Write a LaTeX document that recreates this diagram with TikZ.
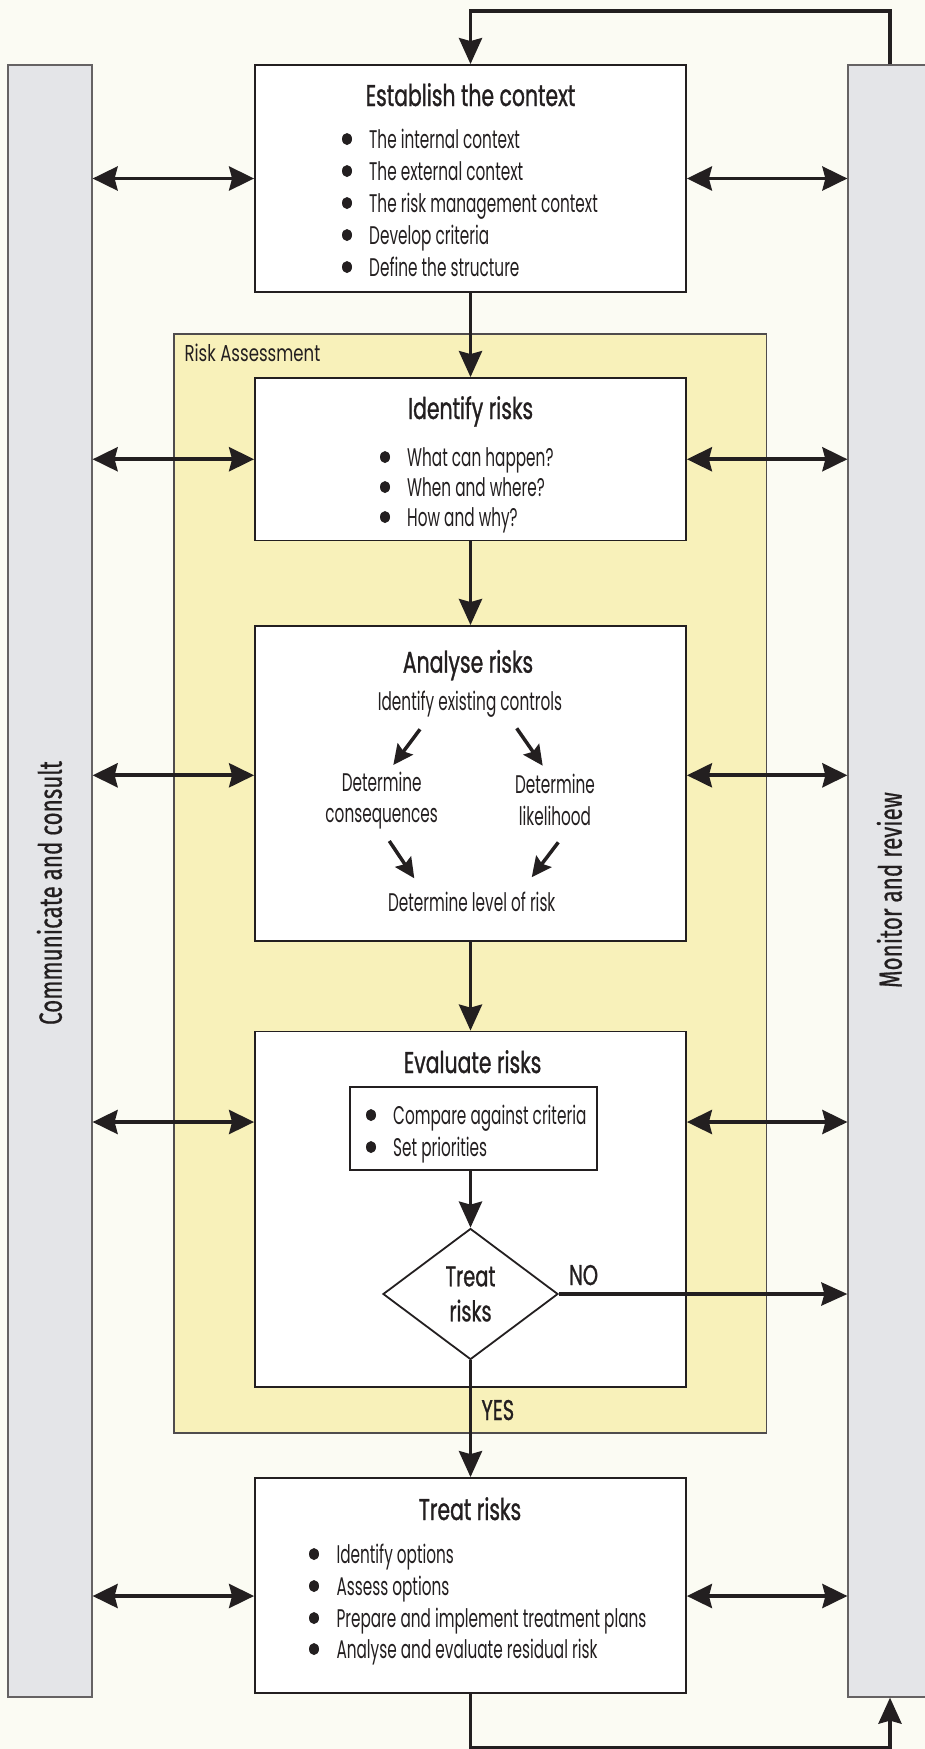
\documentclass[tikz,border=0pt]{standalone}
\usepackage{fontspec}
\setmainfont{Poppins}[FakeStretch=0.6]
\newfontfamily\headfont{Poppins}[FakeStretch=0.68,FakeBold=1]
\newfontfamily\tagfont{Poppins}[FakeStretch=0.72]
\newfontfamily\barfont{Fira Sans}[FakeStretch=0.7,FakeBold=0.6]
\usetikzlibrary{arrows.meta,shapes.geometric}
\definecolor{paper}{HTML}{FBFBF3}
\definecolor{panel}{HTML}{F8F1BA}
\definecolor{barfill}{HTML}{E4E5E8}
\definecolor{ink}{HTML}{231F20}
\newcommand{\bodysize}{\fontsize{25.5}{30}\selectfont}
\begin{document}
\begin{tikzpicture}[x=1pt,y=-1pt,
  box/.style={draw=ink,line width=1.8pt,fill=white,inner sep=0pt,minimum width=431pt},
  sidebar/.style={draw=ink!70,line width=1.2pt,fill=barfill,inner sep=0pt,minimum width=84pt,minimum height=1632pt},
  flow/.style={draw=ink,line width=3.8pt,-{Stealth[length=26pt,width=23pt,inset=3pt]}},
  link/.style={draw=ink,line width=3.8pt,{Stealth[length=25pt,width=24pt,inset=3pt]}-{Stealth[length=25pt,width=24pt,inset=3pt]}},
  small/.style={draw=ink,line width=3.5pt,-{Stealth[length=20pt,width=19pt,inset=3pt]}},
  title/.style={anchor=base,text=ink,inner sep=0pt,font=\headfont\fontsize{30}{36}\selectfont},
  item/.style={anchor=base west,text=ink,inner sep=0pt,font=\bodysize},
  note/.style={anchor=base,text=ink,inner sep=0pt,font=\bodysize},
  answer/.style={anchor=base west,text=ink,inner sep=0pt,font=\headfont\fontsize{28.5}{35}\selectfont},
  side/.style={anchor=base,rotate=90,text=ink,inner sep=0pt,font=\barfont\fontsize{32}{38}\selectfont}]
\path[use as bounding box,fill=paper] (0,0) rectangle (925,1749);
\node[sidebar] (comm) at (50,881) {};
\node[sidebar] (mon) at (890,881) {};
\node[draw=ink!80,line width=1.3pt,fill=panel,inner sep=0pt,minimum width=592.5pt,minimum height=1099pt] (ra) at (470.25,883.5) {};
\node[anchor=base west,inner sep=0pt,text=ink,font=\tagfont\fontsize{23}{28}\selectfont] (ratag) at (184.4,361.7) {Risk Assessment};
\node[side] (commt) at (61.7,893) {Communicate and consult};
\node[side] (mont) at (901.7,890) {Monitor and review};

\node[box,minimum height=227pt] (est) at (470.5,178.5) {};
\node[box,minimum height=162.5pt] (ide) at (470.5,459.25) {};
\node[box,minimum height=314.7pt] (ana) at (470.5,783.3) {};
\node[box,minimum height=355.5pt] (eva) at (470.5,1209.25) {};
\node[box,minimum height=215pt] (tre) at (470.5,1585.5) {};
\node[draw=ink,line width=1.8pt,fill=white,inner sep=0pt,minimum width=247pt,minimum height=82.7pt] (crit) at (473.85,1128.65) {};
\node[diamond,draw=ink,line width=1.8pt,fill=white,inner sep=0pt,minimum width=175pt,minimum height=131pt,align=center,text=ink,font=\headfont\fontsize{28.5}{35}\selectfont] (dia) at (470.5,1294) {Treat\\risks};

\node[title] (estt) at (470.5,106) {Establish the context};
\node[title] (idet) at (470.6,419) {Identify risks};
\node[title] (anat) at (468,672.7) {Analyse risks};
\node[title] (evat) at (472.6,1073) {Evaluate risks};
\node[title] (tret) at (470,1520) {Treat risks};

\node[item] (est1) at (369,148) {The internal context};
\node[item] (est2) at (369,180) {The external context};
\node[item] (est3) at (369,212) {The risk management context};
\node[item] (est4) at (369,244) {Develop criteria};
\node[item] (est5) at (369,276) {Define the structure};
\node[item] (ide1) at (407,466) {What can happen?};
\node[item] (ide2) at (407,496) {When and where?};
\node[item] (ide3) at (407,526) {How and why?};
\node[item] (crit1) at (393,1124) {Compare against criteria};
\node[item] (crit2) at (393,1156) {Set priorities};
\node[item] (tre1) at (336.3,1563) {Identify options};
\node[item] (tre2) at (336.3,1595) {Assess options};
\node[item] (tre3) at (336.3,1627) {Prepare and implement treatment plans};
\node[item] (tre4) at (336.3,1658) {Analyse and evaluate residual risk};
\fill[ink] (347,139) ellipse [x radius=5,y radius=6] (347,171) ellipse [x radius=5,y radius=6]
  (347,203) ellipse [x radius=5,y radius=6] (347,235) ellipse [x radius=5,y radius=6]
  (347,267) ellipse [x radius=5,y radius=6];
\fill[ink] (385,457) ellipse [x radius=5,y radius=6] (385,487) ellipse [x radius=5,y radius=6]
  (385,517) ellipse [x radius=5,y radius=6];
\fill[ink] (371,1115) ellipse [x radius=5,y radius=6] (371,1147) ellipse [x radius=5,y radius=6];
\fill[ink] (314,1554) ellipse [x radius=5,y radius=6] (314,1586) ellipse [x radius=5,y radius=6]
  (314,1618) ellipse [x radius=5,y radius=6] (314,1649) ellipse [x radius=5,y radius=6];

\node[note] (ctl) at (470,710.7) {Identify existing controls};
\node[note] (cons1) at (381.7,791.7) {Determine};
\node[note] (cons2) at (381.7,822.7) {consequences};
\node[note] (like1) at (555,793.3) {Determine};
\node[note] (like2) at (555,825) {likelihood};
\node[note] (lvl) at (471.7,911.7) {Determine level of risk};
\coordinate (c1) at (420,729.3);
\coordinate (c1e) at (393.3,765);
\coordinate (c2) at (516.7,728.3);
\coordinate (c2e) at (542.7,765.7);
\coordinate (c3) at (389.3,841);
\coordinate (c3e) at (414.3,878.3);
\coordinate (c4) at (558.3,842.3);
\coordinate (c4e) at (531.7,877.3);
\draw[small] (c1) -- (c1e);
\draw[small] (c2) -- (c2e);
\draw[small] (c3) -- (c3e);
\draw[small] (c4) -- (c4e);

\node[answer] (no) at (569,1285) {NO};
\node[answer] (yes) at (481.3,1420) {YES};

\draw[flow] (est) -- (ide);
\draw[flow] (ide) -- (ana);
\draw[flow] (ana) -- (eva);
\draw[flow] (dia.north |- crit.south) -- (dia.north);
\draw[flow] (dia.south) -- (dia.south |- tre.north);
\draw[flow] (dia.east) -- (dia.east -| mon.west);
\draw[flow] (mon.north) -- ++(0,-53.3) -| (est.north);
\draw[flow] (tre.south) -- ++(0,54) -| (mon.south);

\coordinate (anal) at ([yshift=8pt]ana.west);
\coordinate (anar) at ([yshift=8pt]ana.east);
\coordinate (eval) at ([yshift=87.25pt]eva.west);
\coordinate (evar) at ([yshift=87.25pt]eva.east);
\coordinate (trel) at ([yshift=-10.5pt]tre.west);
\coordinate (trer) at ([yshift=-10.5pt]tre.east);
\draw[link] (comm.east |- est.west) -- (est.west);
\draw[link] (est.east) -- (mon.west |- est.east);
\draw[link] (comm.east |- ide.west) -- (ide.west);
\draw[link] (ide.east) -- (mon.west |- ide.east);
\draw[link] (comm.east |- anal) -- (anal);
\draw[link] (anar) -- (mon.west |- anar);
\draw[link] (comm.east |- eval) -- (eval);
\draw[link] (evar) -- (mon.west |- evar);
\draw[link] (comm.east |- trel) -- (trel);
\draw[link] (trer) -- (mon.west |- trer);
\end{tikzpicture}
\end{document}
